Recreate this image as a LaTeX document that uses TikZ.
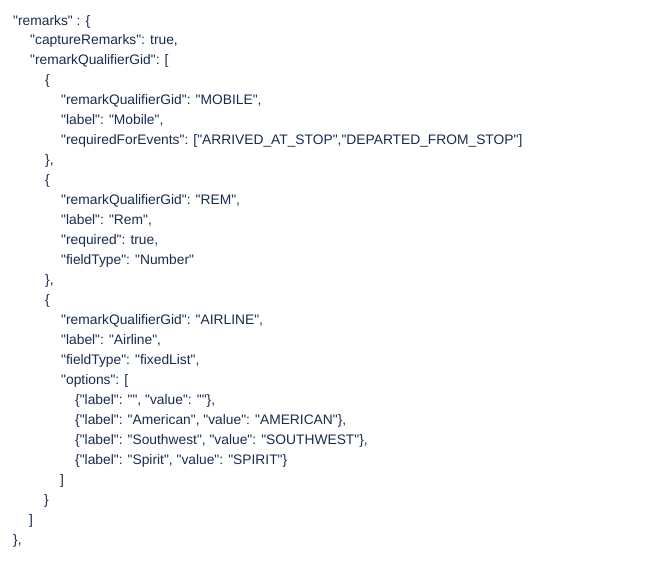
\documentclass[tikz,border=0pt]{standalone}
\usepackage{fontspec}
\setmainfont{Liberation Sans}[Ligatures=TeXOff]
\definecolor{txt}{HTML}{172B4D}
\begin{document}
\begin{tikzpicture}[x=1pt,y=-1pt,t/.style={anchor=base west,inner sep=0pt,text=txt,font=\fontsize{13.8}{15}\selectfont}]
\useasboundingbox (0,0) rectangle (652,573);
\foreach \n/\x/\i/\s in {
a/13/0/{"remarks" : \{},
b/30/1/{"captureRemarks": true,},
c/30/2/{"remarkQualifierGid": [},
d/45/3/{\{},
e/61/4/{"remarkQualifierGid": "MOBILE",},
f/61/5/{"label": "Mobile",},
g/61/6/{"requiredForEvents": ["ARRIVED\_AT\_STOP","DEPARTED\_FROM\_STOP"]},
h/45/7/{\},},
i/45/8/{\{},
j/61/9/{"remarkQualifierGid": "REM",},
k/61/10/{"label": "Rem",},
l/61/11/{"required": true,},
m/61/12/{"fieldType": "Number"},
n/45/13/{\},},
o/45/14/{\{},
p/61/15/{"remarkQualifierGid": "AIRLINE",},
q/61/16/{"label": "Airline",},
r/61/17/{"fieldType": "fixedList",},
s/61/18/{"options": [},
u/75/19/{\{"label": "", "value": ""\},},
v/75/20/{\{"label": "American", "value": "AMERICAN"\},},
w/75/21/{\{"label": "Southwest", "value": "SOUTHWEST"\},},
y/75/22/{\{"label": "Spirit", "value": "SPIRIT"\}},
z/60/23/{]},
aa/44/24/{\}},
ab/29/25/{]},
ac/13/26/{\},}}
{\node[t] (\n) at (\x,{25+\i*20.76*25/26}) {\s};}
\end{tikzpicture}
\end{document}
